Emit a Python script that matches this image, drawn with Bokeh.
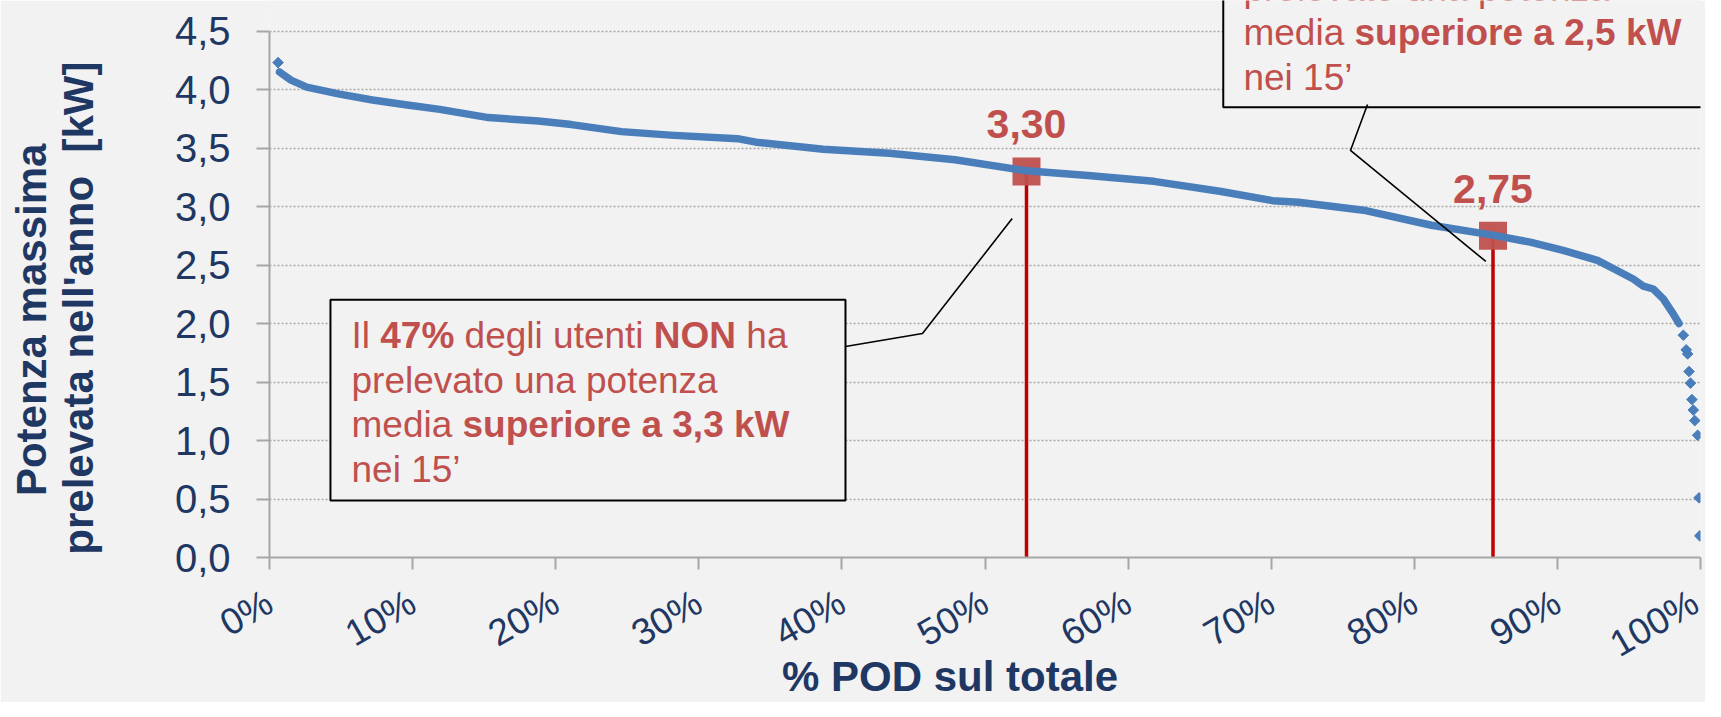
import math
from bokeh.plotting import figure
from bokeh.models import ColumnDataSource, FixedTicker, Range1d, LabelSet, LinearAxis
from bokeh.core.properties import value
from bokeh.embed import file_html
from bokeh.resources import INLINE

# ---------------- data ----------------
# dense part of the sorted curve: % of POD vs max power (kW)
curve_pct = [0.7, 1.5, 2.6, 4.9, 7.2, 9.5, 11.9, 15.3, 18.8, 21.1, 24.6, 28.0,
             32.7, 34.0, 38.7, 43.3, 47.9, 52.9, 57.2, 61.8, 66.4, 70.1, 71.9,
             76.6, 81.2, 85.5, 88.1, 90.4, 92.8, 93.9, 95.3, 96.0, 96.7, 97.4,
             98.0, 98.5]
curve_kw = [4.15, 4.08, 4.02, 3.96, 3.91, 3.87, 3.83, 3.76, 3.73, 3.70, 3.64, 3.61,
            3.58, 3.55, 3.49, 3.455, 3.40, 3.305, 3.265, 3.215, 3.13, 3.05, 3.037,
            2.965, 2.84, 2.755, 2.695, 2.625, 2.54, 2.47, 2.38, 2.32, 2.295, 2.21,
            2.10, 2.00]
# isolated points
sparse_pct = [0.6, 98.8, 99.0, 99.1, 99.2, 99.3, 99.4, 99.5, 99.6, 99.8, 99.9, 99.95]
sparse_kw = [4.23, 1.90, 1.775, 1.74, 1.59, 1.49, 1.35, 1.26, 1.17, 1.045, 0.51, 0.185]

# highlighted points
mark_pct = [52.9, 85.5]
mark_kw = [3.30, 2.75]
mark_labels = ["3,30", "2,75"]

# axes
x_ticks = [0, 10, 20, 30, 40, 50, 60, 70, 80, 90, 100]
x_tick_labels = ["0%", "10%", "20%", "30%", "40%", "50%", "60%", "70%", "80%", "90%", "100%"]
y_ticks = [0.0, 0.5, 1.0, 1.5, 2.0, 2.5, 3.0, 3.5, 4.0, 4.5]
y_tick_labels = ["0,0", "0,5", "1,0", "1,5", "2,0", "2,5", "3,0", "3,5", "4,0", "4,5"]

x_title = "% POD sul totale"
y_title_lines = ["Potenza massima", "prelevata nell'anno\u00a0 [kW]"]

# callout texts: list of lines, each a list of (text, bold)
box1_lines = [
    [("Il ", False), ("47%", True), (" degli utenti ", False), ("NON", True), (" ha", False)],
    [("prelevato una potenza", False)],
    [("media ", False), ("superiore a 3,3 kW", True)],
    [("nei 15\u2019", False)],
]
box2_lines = [
    [("prelevato una potenza", False)],
    [("media ", False), ("superiore a 2,5 kW", True)],
    [("nei 15\u2019", False)],
]

# ---------------- layout / style ----------------
BG = "#F2F2F2"
NAVY = "#1F3763"
RED_TXT = "#C0504D"
BLUE = "#4A7EBB"
AXIS_GRAY = "#A6A6A6"
FONT = "Liberation Sans"
FRAME_W = 1431
FRAME_H = 557
PX_PER_KW = 117.0
Y_TOP = FRAME_H / PX_PER_KW
NBSP = "\u00a0"
TEXT_SHIFT = 10.5 / PX_PER_KW   # baseline correction of the text glyph
YTITLE_PAD = [7, 5]             # trailing no-break spaces per title line
XTITLE_PAD = 6

# callout geometry (data units: % and kW)
box1 = dict(left=4.26, right=40.25, bottom=0.487, top=2.203, text_x=5.73,
            baselines=[1.806, 1.427, 1.043, 0.664])
box2 = dict(left=66.65, right=101.0, bottom=3.849, top=5.5, text_x=68.06,
            baselines=[4.774, 4.396, 4.017])
conn1_x = [40.25, 45.63, 51.9]
conn1_y = [1.803, 1.915, 2.897]
conn2_x = [76.73, 75.54, 85.0]
conn2_y = [3.872, 3.479, 2.530]

BOX_FS = 37
W_REG = {" ": 278, "I": 278, "l": 222, "d": 556, "e": 556, "g": 556, "i": 222,
         "u": 556, "t": 278, "n": 556, "h": 556, "a": 556, "p": 556, "r": 333,
         "v": 500, "o": 556, "z": 500, "m": 833, "1": 556, "5": 556, "\u2019": 222}
W_BOLD = {"4": 556, "7": 556, "%": 889, "N": 722, "O": 778, "s": 556, "u": 611,
          "p": 611, "e": 556, "r": 389, "i": 278, "o": 611, " ": 278, "a": 556,
          "3": 556, ",": 278, "k": 556, "W": 944, "2": 556, "5": 556}


def seg_w(s, bold):
    t = W_BOLD if bold else W_REG
    return sum(t.get(c, 556) for c in s) / 1000.0 * BOX_FS


def box_text_rows(lines, box):
    xs, ys, txt, xo, st = [], [], [], [], []
    for line, base in zip(lines, box["baselines"]):
        off = 0.0
        for s, b in line:
            lead = len(s) - len(s.lstrip(" "))
            xs.append(box["text_x"])
            ys.append(base + TEXT_SHIFT)
            txt.append(s.strip(" "))
            xo.append(off + seg_w(s[:lead], b))
            st.append("bold" if b else "normal")
            off += seg_w(s, b)
    return dict(x=xs, y=ys, text=txt, xo=xo, style=st)


p = figure(frame_width=FRAME_W, frame_height=FRAME_H,
           x_range=Range1d(x_ticks[0], x_ticks[-1]), y_range=Range1d(0, Y_TOP),
           output_backend="svg", toolbar_location=None,
           min_border_left=269, min_border_right=5, min_border_top=0,
           min_border_bottom=144)
p.background_fill_color = BG
p.border_fill_color = BG
p.outline_line_color = None

# axes
p.xaxis.ticker = FixedTicker(ticks=x_ticks)
p.xaxis.major_label_overrides = {t: l for t, l in zip(x_ticks, x_tick_labels)}
p.yaxis.ticker = FixedTicker(ticks=y_ticks)
p.yaxis.major_label_overrides = {t: l for t, l in zip(y_ticks, y_tick_labels)}
p.yaxis.bounds = (y_ticks[0], y_ticks[-1])
for ax in (p.xaxis, p.yaxis):
    ax.axis_line_color = AXIS_GRAY
    ax.axis_line_width = 2
    ax.major_tick_line_color = AXIS_GRAY
    ax.major_tick_line_width = 2
    ax.major_tick_in = 0
    ax.minor_tick_line_color = None
    ax.major_label_text_color = NAVY
    ax.major_label_text_font = FONT
p.yaxis.major_tick_out = 13
p.yaxis.major_label_standoff = 26
p.yaxis.major_label_text_font_size = "40px"
p.xaxis.major_tick_out = 12
p.xaxis.major_label_standoff = 30
p.xaxis.major_label_text_font_size = "37px"
p.xaxis.major_label_orientation = math.pi / 6


def title_axis(label, start, standoff, size, line_height):
    # an axis that carries only a title (no line, no ticks, no tick labels)
    return LinearAxis(ticker=FixedTicker(ticks=[start]),
                      major_label_overrides={start: ""},
                      axis_line_color=None, major_tick_line_color=None,
                      minor_tick_line_color=None, major_tick_out=0, major_tick_in=0,
                      major_label_standoff=0,
                      axis_label=label, axis_label_standoff=standoff,
                      axis_label_text_font=FONT, axis_label_text_font_style="bold",
                      axis_label_text_font_size=size, axis_label_text_color=NAVY,
                      axis_label_text_line_height=line_height)


# trailing no-break spaces move the centred titles off the frame centre, as in the original
y_title = "\n".join(t + NBSP * n for t, n in zip(y_title_lines, YTITLE_PAD))
p.add_layout(title_axis(y_title, y_ticks[0], 70, "42px", 1.0), "left")
p.add_layout(title_axis(x_title + NBSP * XTITLE_PAD, x_ticks[0], -33, "42px", 1.2), "below")

p.xgrid.visible = False
p.ygrid.ticker = FixedTicker(ticks=y_ticks)
p.ygrid.grid_line_color = AXIS_GRAY
p.ygrid.grid_line_width = 1.5
p.ygrid.grid_line_dash = "2 2"

# red drop lines and markers
p.segment(x0=mark_pct, y0=[y_ticks[0]] * len(mark_pct), x1=mark_pct, y1=mark_kw,
          line_color="#C00000", line_width=3.5)
p.scatter(x=mark_pct, y=mark_kw, marker="square", size=28,
          fill_color=RED_TXT, line_color=None, fill_alpha=0.95)

# the curve
p.line(x=curve_pct, y=curve_kw, line_color=BLUE, line_width=7.5,
       line_join="round", line_cap="round")
p.scatter(x=sparse_pct, y=sparse_kw, marker="square", angle=math.pi / 4, size=7.5,
          fill_color=BLUE, line_color=BLUE, line_width=1)

# value labels
msrc = ColumnDataSource(dict(x=mark_pct, y=mark_kw, label=mark_labels))
p.add_layout(LabelSet(x="x", y="y", text="label", source=msrc, y_offset=33,
                      text_align="center", text_baseline="alphabetic",
                      text_font=value(FONT), text_font_style="bold",
                      text_font_size="41px", text_color=RED_TXT))

# callouts
for bx in (box1, box2):
    p.quad(left=[bx["left"]], right=[bx["right"]], top=[bx["top"]], bottom=[bx["bottom"]],
           fill_color=BG, line_color="black", line_width=2)
p.multi_line(xs=[conn1_x, conn2_x], ys=[conn1_y, conn2_y], line_color="black", line_width=1.6)

for lines, bx in ((box1_lines, box1), (box2_lines, box2)):
    src = ColumnDataSource(box_text_rows(lines, bx))
    p.text(x="x", y="y", text="text", x_offset="xo", text_font_style="style",
           text_font=value(FONT), text_font_size=value(f"{BOX_FS}px"),
           text_color=RED_TXT, text_align="left", text_baseline="alphabetic", source=src)

open("out.html", "w").write(file_html(p, INLINE))
